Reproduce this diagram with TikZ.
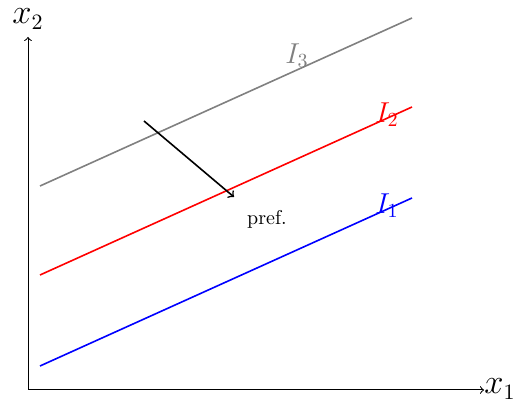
\documentclass[tikz,border=0pt]{standalone}
\begin{document}
\begin{tikzpicture}[x=0.5pt,y=-0.5pt,
  axis/.style={->,line width=0.5pt},
  indiff/.style={line width=0.8pt},
  lbl/.style={inner sep=0pt}]
\useasboundingbox (0,0) rectangle (514,405);
\coordinate (O) at (28,390);
\coordinate (X) at (484,390);
\coordinate (Y) at (28,37);
\draw[axis] (O) -- (X);
\draw[axis] (O) -- (Y);
\node[lbl] (x1) at (500,389) {\fontsize{16}{18}\selectfont $x_1$};
\node[lbl] (x2) at (28,19) {\fontsize{16}{18}\selectfont $x_2$};
\coordinate (b1) at (40,366); \coordinate (b2) at (412,198);
\coordinate (r1) at (40,275); \coordinate (r2) at (412,107);
\coordinate (g1) at (40,186); \coordinate (g2) at (412,18);
\draw[indiff,blue] (b1) -- (b2);
\draw[indiff,red] (r1) -- (r2);
\draw[indiff,gray] (g1) -- (g2);
\node[lbl,blue] (I1) at (387,206) {\Large $I_1$};
\node[lbl,red] (I2) at (387,115) {\Large $I_2$};
\node[lbl,gray] (I3) at (297,56) {\Large $I_3$};
\coordinate (a1) at (144,121);
\coordinate (a2) at (234,197);
\draw[->,line width=0.8pt] (a1) -- (a2);
\node[lbl] (pref) at (267,219) {pref.};
\end{tikzpicture}
\end{document}
